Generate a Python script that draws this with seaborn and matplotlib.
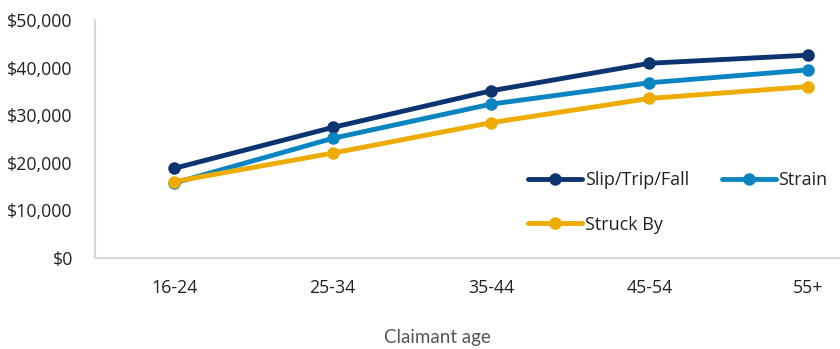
import matplotlib
matplotlib.use("Agg")
import matplotlib.pyplot as plt
import seaborn as sns
import pandas as pd
from matplotlib.ticker import FuncFormatter

ages = ["16-24", "25-34", "35-44", "45-54", "55+"]
slip = [18800, 27400, 35100, 40900, 42600]
strain = [15700, 25100, 32300, 36800, 39500]
struck = [16000, 22000, 28400, 33500, 36000]
series_names = ["Slip/Trip/Fall", "Strain", "Struck By"]
yticks = [0, 10000, 20000, 30000, 40000, 50000]

colors = {"Slip/Trip/Fall": "#0b3470", "Strain": "#0a85c2", "Struck By": "#eeab00"}

sns.set_theme(style="white")
plt.rcParams['font.family'] = ['Open Sans', 'DejaVu Sans']

df = pd.DataFrame({
    "age": ages * 3,
    "value": slip + strain + struck,
    "series": [series_names[0]] * 5 + [series_names[1]] * 5 + [series_names[2]] * 5,
})

fig = plt.figure(figsize=(8.4, 3.49), dpi=100)
ax = fig.add_axes([95 / 840, 91.3 / 349, 792 / 840, 237.7 / 349])

for name in series_names:
    sub = df[df["series"] == name]
    sns.lineplot(data=sub, x="age", y="value", ax=ax, color=colors[name], label=name,
                 marker="o", markersize=9, linewidth=3.5, markeredgewidth=0, sort=False)

ax.set_xlim(-0.5, 4.5)
ax.set_ylim(0, 50000)
ax.set_yticks(yticks)
ax.yaxis.set_major_formatter(FuncFormatter(lambda v, p: f"${v:,.0f}"))
ax.set_xlabel("")
ax.set_ylabel("")
ax.tick_params(axis="both", length=0, labelsize=12.8, colors="#222222")
ax.tick_params(axis="y", pad=16)
ax.tick_params(axis="x", pad=15)
for s in ["top", "right"]:
    ax.spines[s].set_visible(False)
for s in ["left", "bottom"]:
    ax.spines[s].set_color("#d9d9d9")
    ax.spines[s].set_linewidth(1.5)
ax.grid(False)

handles, labels = ax.get_legend_handles_labels()
order = [0, 2, 1]
ax.legend([handles[i] for i in order], [labels[i] for i in order], ncol=2,
          loc="upper left", bbox_to_anchor=(528 / 840, 1 - 171 / 349),
          bbox_transform=fig.transFigure, frameon=False, fontsize=13,
          handlelength=3.0, handletextpad=0.15, columnspacing=1.8,
          labelspacing=1.47, borderpad=0, borderaxespad=0, labelcolor="#222222")

fig.text(437 / 840, 1 - 338 / 349, "Claimant age", ha="center", va="center",
         fontsize=13.5, color="#555555", family=["Lato", "DejaVu Sans"])

fig.savefig("out.png", dpi=100)
